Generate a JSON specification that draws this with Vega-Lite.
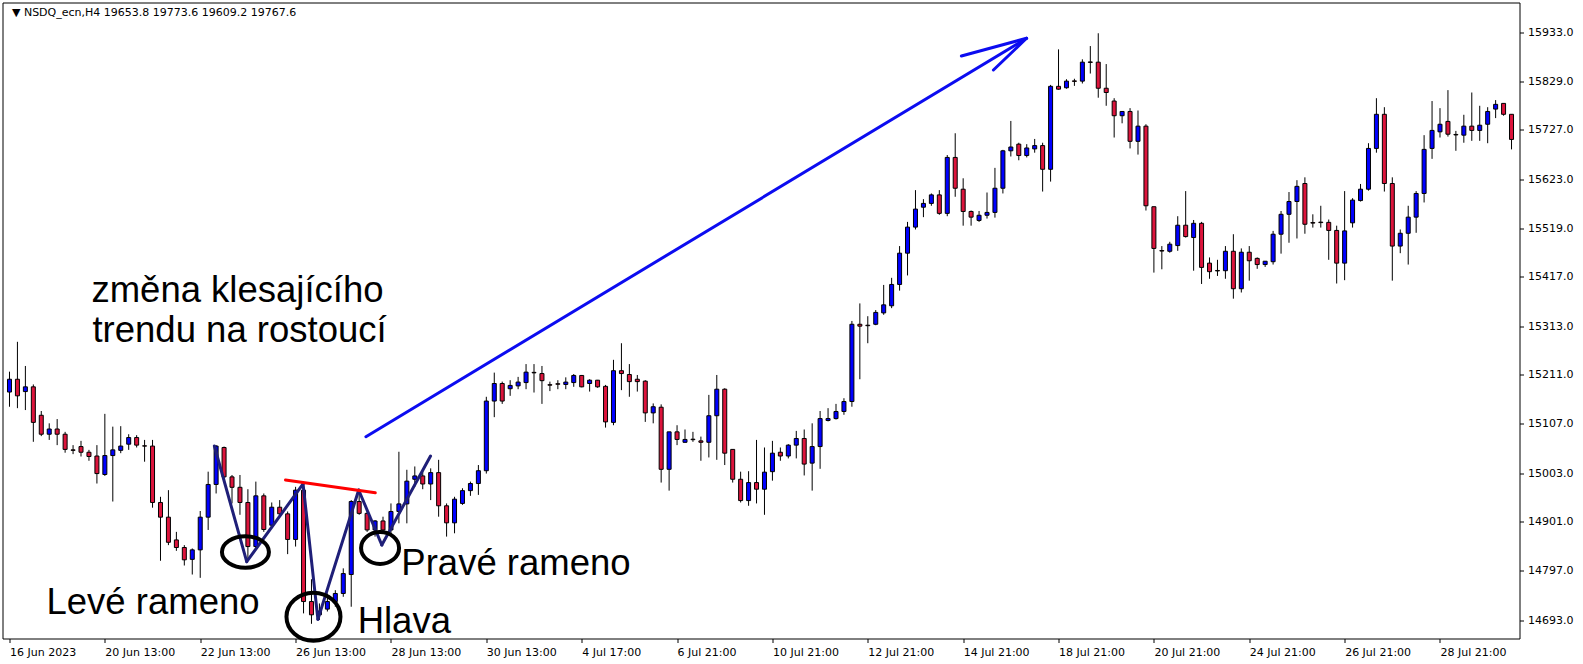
{
  "$schema": "https://vega.github.io/schema/vega-lite/v6.json",
  "width": 1517,
  "height": 636,
  "autosize": {"type": "none"},
  "padding": {"left": 2.5, "top": 2.5, "right": 63.5, "bottom": 25.5},
  "background": "#ffffff",
  "config": {
    "view": {"stroke": "#000000", "strokeWidth": 1},
    "axis": {"labelFont": "DejaVu Sans", "labelFontSize": 11, "labelColor": "#000000", "tickColor": "#000000", "domain": false, "grid": false, "tickSize": 4}
  },
  "datasets": {
    "candles": [
      {"i":0,"o":15174,"h":15217,"l":15143,"c":15201},
      {"i":1,"o":15201,"h":15280,"l":15140,"c":15166},
      {"i":2,"o":15175,"h":15229,"l":15136,"c":15185},
      {"i":3,"o":15185,"h":15190,"l":15069,"c":15110},
      {"i":4,"o":15125,"h":15134,"l":15081,"c":15085},
      {"i":5,"o":15085,"h":15108,"l":15073,"c":15096},
      {"i":6,"o":15096,"h":15117,"l":15062,"c":15085},
      {"i":7,"o":15085,"h":15090,"l":15046,"c":15053},
      {"i":8,"o":15052,"h":15062,"l":15043,"c":15051},
      {"i":9,"o":15059,"h":15071,"l":15038,"c":15047},
      {"i":10,"o":15047,"h":15052,"l":15029,"c":15038},
      {"i":11,"o":15039,"h":15062,"l":14981,"c":15002},
      {"i":12,"o":15000,"h":15128,"l":14997,"c":15040},
      {"i":13,"o":15040,"h":15101,"l":14943,"c":15052},
      {"i":14,"o":15051,"h":15102,"l":15045,"c":15060},
      {"i":15,"o":15064,"h":15085,"l":15052,"c":15078},
      {"i":16,"o":15078,"h":15083,"l":15057,"c":15062},
      {"i":17,"o":15060.5,"h":15073,"l":15027,"c":15060},
      {"i":18,"o":15060,"h":15073,"l":14930,"c":14941},
      {"i":19,"o":14941,"h":14953,"l":14818,"c":14910},
      {"i":20,"o":14910,"h":14967,"l":14851,"c":14857},
      {"i":21,"o":14862,"h":14879,"l":14839,"c":14846},
      {"i":22,"o":14846,"h":14851,"l":14808,"c":14820},
      {"i":23,"o":14821,"h":14844,"l":14789,"c":14841},
      {"i":24,"o":14841,"h":14923,"l":14782,"c":14910},
      {"i":25,"o":14910,"h":15006,"l":14883,"c":14979},
      {"i":26,"o":14979,"h":15062,"l":14960,"c":15060},
      {"i":27,"o":15057,"h":15059,"l":14992,"c":14995},
      {"i":28,"o":14995,"h":14999,"l":14939,"c":14973},
      {"i":29,"o":14973,"h":14999,"l":14915,"c":14941},
      {"i":30,"o":14941,"h":14969,"l":14820,"c":14848},
      {"i":31,"o":14848,"h":14985,"l":14844,"c":14955},
      {"i":32,"o":14955,"h":14960,"l":14879,"c":14884},
      {"i":33,"o":14893,"h":14941,"l":14890,"c":14931},
      {"i":34,"o":14931,"h":14946,"l":14911,"c":14917},
      {"i":35,"o":14917,"h":14922,"l":14832,"c":14863},
      {"i":36,"o":14863,"h":14974,"l":14848,"c":14967},
      {"i":37,"o":14967,"h":14981,"l":14707,"c":14732},
      {"i":38,"o":14732,"h":14779,"l":14685,"c":14704},
      {"i":39,"o":14704,"h":14728,"l":14693,"c":14712},
      {"i":40,"o":14716,"h":14749,"l":14711,"c":14732},
      {"i":41,"o":14732,"h":14756,"l":14721,"c":14749},
      {"i":42,"o":14749,"h":14802,"l":14742,"c":14791},
      {"i":43,"o":14789,"h":14946,"l":14721,"c":14943},
      {"i":44,"o":14943,"h":14967,"l":14915,"c":14918},
      {"i":45,"o":14918,"h":14925,"l":14879,"c":14883},
      {"i":46,"o":14883,"h":14904,"l":14869,"c":14902},
      {"i":47,"o":14902,"h":14911,"l":14879,"c":14883},
      {"i":48,"o":14883,"h":14939,"l":14872,"c":14922},
      {"i":49,"o":14922,"h":15048,"l":14897,"c":14938},
      {"i":50,"o":14938,"h":15010,"l":14897,"c":14986},
      {"i":51,"o":14990,"h":15017,"l":14974,"c":14997},
      {"i":52,"o":14997,"h":15010,"l":14969,"c":14980},
      {"i":53,"o":14980,"h":15013,"l":14946,"c":15004},
      {"i":54,"o":15004,"h":15031,"l":14911,"c":14934},
      {"i":55,"o":14934,"h":14939,"l":14869,"c":14898},
      {"i":56,"o":14898,"h":14953,"l":14876,"c":14948},
      {"i":57,"o":14939,"h":14971,"l":14936,"c":14966},
      {"i":58,"o":14966,"h":14985,"l":14955,"c":14981},
      {"i":59,"o":14981,"h":15020,"l":14957,"c":15008},
      {"i":60,"o":15008,"h":15164,"l":15002,"c":15155},
      {"i":61,"o":15155,"h":15215,"l":15121,"c":15192},
      {"i":62,"o":15192,"h":15196,"l":15149,"c":15155},
      {"i":63,"o":15181,"h":15199,"l":15166,"c":15188},
      {"i":64,"o":15187,"h":15206,"l":15180,"c":15195},
      {"i":65,"o":15194,"h":15233,"l":15180,"c":15216},
      {"i":66,"o":15215.5,"h":15233,"l":15173,"c":15214.5},
      {"i":67,"o":15213,"h":15229,"l":15149,"c":15198},
      {"i":68,"o":15189.5,"h":15196,"l":15176,"c":15188.5},
      {"i":69,"o":15191.5,"h":15199,"l":15180,"c":15190.5},
      {"i":70,"o":15190,"h":15205,"l":15180,"c":15195},
      {"i":71,"o":15194,"h":15212,"l":15185,"c":15209},
      {"i":72,"o":15209,"h":15210,"l":15184,"c":15185},
      {"i":73,"o":15192,"h":15201,"l":15175,"c":15199},
      {"i":74,"o":15199,"h":15199.5,"l":15183,"c":15185},
      {"i":75,"o":15186,"h":15189,"l":15099,"c":15111},
      {"i":76,"o":15110,"h":15242,"l":15104,"c":15219},
      {"i":77,"o":15219,"h":15277,"l":15178,"c":15213},
      {"i":78,"o":15211,"h":15233,"l":15164,"c":15196},
      {"i":79,"o":15201,"h":15210,"l":15175,"c":15196},
      {"i":80,"o":15197,"h":15199,"l":15111,"c":15130},
      {"i":81,"o":15130,"h":15150,"l":15108,"c":15143},
      {"i":82,"o":15142,"h":15148,"l":14983,"c":15011},
      {"i":83,"o":15011,"h":15090,"l":14966,"c":15090},
      {"i":84,"o":15090,"h":15104,"l":15062,"c":15074},
      {"i":85,"o":15068,"h":15095,"l":15067,"c":15074},
      {"i":86,"o":15074.5,"h":15090,"l":15069,"c":15073.5},
      {"i":87,"o":15071,"h":15080,"l":15029,"c":15068},
      {"i":88,"o":15068,"h":15168,"l":15036,"c":15124},
      {"i":89,"o":15124,"h":15210,"l":15031,"c":15180},
      {"i":90,"o":15180,"h":15182,"l":15020,"c":15045},
      {"i":91,"o":15053,"h":15053,"l":14983,"c":14990},
      {"i":92,"o":14990,"h":15006,"l":14941,"c":14945},
      {"i":93,"o":14945,"h":15007,"l":14934,"c":14983},
      {"i":94,"o":14983,"h":15073,"l":14939,"c":14969},
      {"i":95,"o":14969,"h":15057,"l":14915,"c":15005},
      {"i":96,"o":15006,"h":15071,"l":14987,"c":15045},
      {"i":97,"o":15047,"h":15057,"l":15029,"c":15039},
      {"i":98,"o":15039,"h":15064,"l":15034,"c":15062},
      {"i":99,"o":15062,"h":15092,"l":15034,"c":15076},
      {"i":100,"o":15076,"h":15095,"l":14998,"c":15022},
      {"i":101,"o":15024,"h":15108,"l":14966,"c":15059},
      {"i":102,"o":15059,"h":15134,"l":15012,"c":15118},
      {"i":103,"o":15114,"h":15140,"l":15112,"c":15118},
      {"i":104,"o":15118,"h":15149,"l":15116,"c":15133},
      {"i":105,"o":15133,"h":15161,"l":15126,"c":15154},
      {"i":106,"o":15154,"h":15324,"l":15143,"c":15317},
      {"i":107,"o":15317,"h":15361,"l":15201,"c":15313},
      {"i":108,"o":15315,"h":15334,"l":15277,"c":15314},
      {"i":109,"o":15317,"h":15347,"l":15315,"c":15342},
      {"i":110,"o":15341,"h":15400,"l":15337,"c":15358},
      {"i":111,"o":15356,"h":15415,"l":15351,"c":15401},
      {"i":112,"o":15401,"h":15482,"l":15388,"c":15467},
      {"i":113,"o":15467,"h":15533,"l":15420,"c":15522},
      {"i":114,"o":15522,"h":15600,"l":15517,"c":15560},
      {"i":115,"o":15564,"h":15581,"l":15543,"c":15572},
      {"i":116,"o":15572,"h":15593,"l":15567,"c":15590},
      {"i":117,"o":15590,"h":15600,"l":15548,"c":15551},
      {"i":118,"o":15551,"h":15674,"l":15545,"c":15669},
      {"i":119,"o":15669,"h":15720,"l":15586,"c":15604},
      {"i":120,"o":15602,"h":15625,"l":15525,"c":15555},
      {"i":121,"o":15555,"h":15557,"l":15525,"c":15543},
      {"i":122,"o":15536,"h":15556,"l":15533,"c":15547},
      {"i":123,"o":15547,"h":15595,"l":15540,"c":15553},
      {"i":124,"o":15553,"h":15647,"l":15542,"c":15604},
      {"i":125,"o":15604,"h":15685,"l":15593,"c":15683},
      {"i":126,"o":15683,"h":15746,"l":15671,"c":15691},
      {"i":127,"o":15697,"h":15700,"l":15663,"c":15673},
      {"i":128,"o":15673,"h":15697,"l":15669,"c":15689},
      {"i":129,"o":15687,"h":15708,"l":15679,"c":15694},
      {"i":130,"o":15694,"h":15700,"l":15597,"c":15644},
      {"i":131,"o":15644,"h":15822,"l":15618,"c":15819},
      {"i":132,"o":15819,"h":15897,"l":15812,"c":15813},
      {"i":133,"o":15816,"h":15834,"l":15814,"c":15830},
      {"i":134,"o":15830.5,"h":15835,"l":15820,"c":15829.5},
      {"i":135,"o":15830,"h":15876,"l":15825,"c":15870},
      {"i":136,"o":15870.5,"h":15904,"l":15846,"c":15869.5},
      {"i":137,"o":15870,"h":15931,"l":15795,"c":15815},
      {"i":138,"o":15815,"h":15866,"l":15778,"c":15806},
      {"i":139,"o":15788,"h":15794,"l":15711,"c":15757},
      {"i":140,"o":15757,"h":15766,"l":15741,"c":15766},
      {"i":141,"o":15766,"h":15773,"l":15688,"c":15703},
      {"i":142,"o":15703,"h":15768,"l":15675,"c":15735},
      {"i":143,"o":15735,"h":15739,"l":15557,"c":15567},
      {"i":144,"o":15565,"h":15565,"l":15426,"c":15477},
      {"i":145,"o":15472.5,"h":15482,"l":15433,"c":15471.5},
      {"i":146,"o":15471,"h":15491,"l":15468,"c":15486},
      {"i":147,"o":15483,"h":15545,"l":15472,"c":15526},
      {"i":148,"o":15526,"h":15598,"l":15500,"c":15502},
      {"i":149,"o":15500,"h":15537,"l":15430,"c":15530},
      {"i":150,"o":15530,"h":15533,"l":15402,"c":15437},
      {"i":151,"o":15446,"h":15458,"l":15413,"c":15428},
      {"i":152,"o":15430.5,"h":15453,"l":15419,"c":15429.5},
      {"i":153,"o":15430,"h":15482,"l":15413,"c":15471},
      {"i":154,"o":15471,"h":15507,"l":15371,"c":15392},
      {"i":155,"o":15392,"h":15477,"l":15384,"c":15469},
      {"i":156,"o":15469,"h":15482,"l":15409,"c":15451},
      {"i":157,"o":15456,"h":15458,"l":15434,"c":15443},
      {"i":158,"o":15443,"h":15450,"l":15438,"c":15450},
      {"i":159,"o":15449,"h":15514,"l":15443,"c":15507},
      {"i":160,"o":15507,"h":15556,"l":15466,"c":15549},
      {"i":161,"o":15549,"h":15596,"l":15489,"c":15576},
      {"i":162,"o":15576,"h":15621,"l":15498,"c":15608},
      {"i":163,"o":15614,"h":15627,"l":15508,"c":15528},
      {"i":164,"o":15531.5,"h":15549,"l":15521,"c":15530.5},
      {"i":165,"o":15532.5,"h":15567,"l":15521,"c":15531.5},
      {"i":166,"o":15532,"h":15538,"l":15453,"c":15515},
      {"i":167,"o":15515,"h":15525,"l":15403,"c":15446},
      {"i":168,"o":15446,"h":15598,"l":15410,"c":15514},
      {"i":169,"o":15531,"h":15583,"l":15521,"c":15579},
      {"i":170,"o":15578,"h":15613,"l":15576,"c":15602},
      {"i":171,"o":15602,"h":15699,"l":15599,"c":15688},
      {"i":172,"o":15688,"h":15794,"l":15679,"c":15760},
      {"i":173,"o":15760,"h":15775,"l":15597,"c":15614},
      {"i":174,"o":15614,"h":15627,"l":15409,"c":15482},
      {"i":175,"o":15482,"h":15517,"l":15467,"c":15509},
      {"i":176,"o":15509,"h":15567,"l":15443,"c":15543},
      {"i":177,"o":15543,"h":15598,"l":15510,"c":15593},
      {"i":178,"o":15593,"h":15716,"l":15574,"c":15686},
      {"i":179,"o":15688,"h":15788,"l":15666,"c":15726},
      {"i":180,"o":15723,"h":15773,"l":15711,"c":15739},
      {"i":181,"o":15745,"h":15811,"l":15713,"c":15718},
      {"i":182,"o":15717.5,"h":15725,"l":15683,"c":15716.5},
      {"i":183,"o":15716,"h":15759,"l":15700,"c":15735},
      {"i":184,"o":15735,"h":15806,"l":15704,"c":15726},
      {"i":185,"o":15726,"h":15778,"l":15704,"c":15737},
      {"i":186,"o":15739,"h":15775,"l":15699,"c":15766},
      {"i":187,"o":15771,"h":15790,"l":15752,"c":15781},
      {"i":188,"o":15783,"h":15783,"l":15757,"c":15760},
      {"i":189,"o":15760,"h":15760,"l":15686,"c":15707}
    ],
    "segs": [
      {"g":"zigzag","i":25.78,"p":15060.1,"i2":29.85,"p2":14816.0},
      {"g":"zigzag","i":29.85,"p":14816.0,"i2":36.94,"p2":14980.0},
      {"g":"zigzag","i":36.94,"p":14980.0,"i2":38.81,"p2":14694.5},
      {"g":"zigzag","i":38.81,"p":14694.5,"i2":43.94,"p2":14967.3},
      {"g":"zigzag","i":43.94,"p":14967.3,"i2":46.85,"p2":14851.2},
      {"g":"zigzag","i":46.85,"p":14851.2,"i2":52.98,"p2":15039.0},
      {"g":"neck","i":34.73,"p":14988.4,"i2":46.03,"p2":14961.6},
      {"g":"arrow","i":44.85,"p":15079.8,"i2":127.98,"p2":15920.4},
      {"g":"arrow","i":119.78,"p":15883.0,"i2":127.98,"p2":15920.4},
      {"g":"arrow","i":123.81,"p":15853.5,"i2":127.98,"p2":15920.4}
    ],
    "ovals": [
      {"name":"left","i":29.69,"p":14836.5},
      {"name":"head","i":38.25,"p":14699.8},
      {"name":"right","i":46.63,"p":14844.9}
    ],
    "notes": [
      {"t":"změna klesajícího","i":10.31,"p":15364.6},
      {"t":"trendu na rostoucí","i":10.44,"p":15280.2},
      {"t":"Levé rameno","i":4.66,"p":14705.0},
      {"t":"Hlava","i":43.81,"p":14664.7},
      {"t":"Pravé rameno","i":49.31,"p":14788.0}
    ],
    "header": [
      {"t":"▼ NSDQ_ecn,H4  19653.8 19773.6 19609.2 19767.6","i":0.31,"p":15967.4}
    ]
  },
  "layer": [
    {
      "data": {"name": "candles"},
      "mark": {"type": "rule", "color": "#000000", "strokeWidth": 1},
      "encoding": {
        "x": {
          "field": "i", "type": "quantitative", "title": null,
          "scale": {"domain": [-0.25, 189.375], "nice": false, "zero": false},
          "axis": {
            "values": [0,12,24,36,48,60,72,84,96,108,120,132,144,156,168,180],
            "labelExpr": "['16 Jun 2023','20 Jun 13:00','22 Jun 13:00','26 Jun 13:00','28 Jun 13:00','30 Jun 13:00','4 Jul 17:00','6 Jul 21:00','10 Jul 21:00','12 Jul 21:00','14 Jul 21:00','18 Jul 21:00','20 Jul 21:00','24 Jul 21:00','26 Jul 21:00','28 Jul 21:00'][round(datum.value/12)]",
            "labelAlign": "left", "labelPadding": 4, "labelFlush": false, "labelOverlap": false, "labelBound": false
          }
        },
        "y": {
          "field": "l", "type": "quantitative", "title": null,
          "scale": {"domain": [14654.0, 15995.9], "nice": false, "zero": false},
          "axis": {
            "orient": "right",
            "values": [14693,14797,14901,15003,15107,15211,15313,15417,15519,15623,15727,15829,15933],
            "format": ".1f", "labelPadding": 4, "labelFlush": false, "labelOverlap": false, "labelBound": false
          }
        },
        "y2": {"field": "h"}
      }
    },
    {
      "data": {"name": "candles"},
      "mark": {"type": "bar", "width": 4, "stroke": "#000000", "strokeWidth": 1, "fillOpacity": 1},
      "encoding": {
        "x": {"field": "i", "type": "quantitative", "title": null},
        "y": {"field": "o", "type": "quantitative", "title": null},
        "y2": {"field": "c"},
        "fill": {"condition": {"test": "datum.c >= datum.o", "value": "#0000ff"}, "value": "#dc143c"}
      }
    },
    {
      "data": {"name": "segs"},
      "mark": {"type": "rule", "strokeWidth": 3, "strokeCap": "round"},
      "encoding": {
        "x": {"field": "i", "type": "quantitative", "title": null},
        "x2": {"field": "i2"},
        "y": {"field": "p", "type": "quantitative", "title": null},
        "y2": {"field": "p2"},
        "color": {"field": "g", "type": "nominal", "scale": {"domain": ["zigzag", "neck", "arrow"], "range": ["#1f1f78", "#ff0000", "#0c0cf0"]}, "legend": null}
      }
    },
    {
      "data": {"name": "ovals"},
      "transform": [{"filter": "datum.name == 'left'"}],
      "mark": {"type": "point", "filled": false, "stroke": "#000000", "strokeWidth": 4, "opacity": 1, "size": 2209, "shape": "M1,0C1,0.37,0.552,0.67,0,0.67C-0.552,0.67,-1,0.37,-1,0C-1,-0.37,-0.552,-0.67,0,-0.67C0.552,-0.67,1,-0.37,1,0Z"},
      "encoding": {
        "x": {"field": "i", "type": "quantitative", "title": null},
        "y": {"field": "p", "type": "quantitative", "title": null}
      }
    },
    {
      "data": {"name": "ovals"},
      "transform": [{"filter": "datum.name == 'head'"}],
      "mark": {"type": "point", "filled": false, "stroke": "#000000", "strokeWidth": 4, "opacity": 1, "size": 2916, "shape": "M1,0C1,0.492,0.552,0.89,0,0.89C-0.552,0.89,-1,0.492,-1,0C-1,-0.492,-0.552,-0.89,0,-0.89C0.552,-0.89,1,-0.492,1,0Z"},
      "encoding": {
        "x": {"field": "i", "type": "quantitative", "title": null},
        "y": {"field": "p", "type": "quantitative", "title": null}
      }
    },
    {
      "data": {"name": "ovals"},
      "transform": [{"filter": "datum.name == 'right'"}],
      "mark": {"type": "point", "filled": false, "stroke": "#000000", "strokeWidth": 4, "opacity": 1, "size": 1444, "shape": "M1,0C1,0.464,0.552,0.84,0,0.84C-0.552,0.84,-1,0.464,-1,0C-1,-0.464,-0.552,-0.84,0,-0.84C0.552,-0.84,1,-0.464,1,0Z"},
      "encoding": {
        "x": {"field": "i", "type": "quantitative", "title": null},
        "y": {"field": "p", "type": "quantitative", "title": null}
      }
    },
    {
      "data": {"name": "notes"},
      "mark": {"type": "text", "align": "left", "baseline": "alphabetic", "font": "Liberation Sans", "fontSize": 36.5, "color": "#000000"},
      "encoding": {
        "x": {"field": "i", "type": "quantitative", "title": null},
        "y": {"field": "p", "type": "quantitative", "title": null},
        "text": {"field": "t"}
      }
    },
    {
      "data": {"name": "header"},
      "mark": {"type": "text", "align": "left", "baseline": "alphabetic", "font": "DejaVu Sans", "fontSize": 11, "color": "#000000"},
      "encoding": {
        "x": {"field": "i", "type": "quantitative", "title": null},
        "y": {"field": "p", "type": "quantitative", "title": null},
        "text": {"field": "t"}
      }
    }
  ]
}
